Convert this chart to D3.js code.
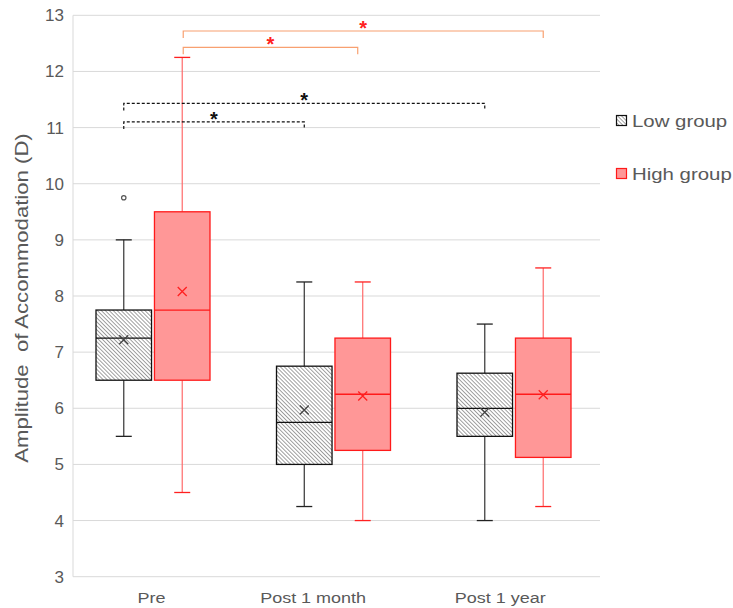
<!DOCTYPE html>
<html><head><meta charset="utf-8">
<script src="https://cdn.jsdelivr.net/npm/d3@7"></script>
<style>body{margin:0;background:#fff}svg{display:block}</style>
</head><body><svg id="c" width="733" height="608"></svg>
<script>
const categories = ["Pre", "Post 1 month", "Post 1 year"];
const groups = ["Low group", "High group"];
// [whiskerLow, Q1, median, Q3, whiskerHigh, mean]
const lowGroup = [
  [5.5, 6.5, 7.25, 7.75, 9.0, 7.22],
  [4.25, 5.0, 5.75, 6.75, 8.25, 5.97],
  [4.0, 5.5, 6.0, 6.625, 7.5, 5.93]
];
const highGroup = [
  [4.5, 6.5, 7.75, 9.5, 12.25, 8.08],
  [4.0, 5.25, 6.25, 7.25, 8.25, 6.22],
  [4.25, 5.125, 6.25, 7.25, 8.5, 6.24]
];
const lowOutliers = [[0, 9.75]];
const yTicks = [3,4,5,6,7,8,9,10,11,12,13];
// significance brackets: from/to = [categoryIndex, groupIndex], level in D
const brackets = [
  {from:[0,0], to:[1,0], level:11.1, g:0},
  {from:[0,0], to:[2,0], level:11.43, g:0},
  {from:[0,1], to:[1,1], level:12.43, g:1},
  {from:[0,1], to:[2,1], level:12.72, g:1}
];

const svg = d3.select("#c");
const font = "Arial, 'Liberation Sans', sans-serif";
const grey = "#595959";
const SX = 1.2; // horizontal stretch of text, as in the reference
const y = d3.scaleLinear().domain([3,13]).range([576.7,15.3]);
const x = d3.scaleBand().domain(categories).range([62.75,604.25]);
const xg = d3.scaleBand().domain(groups).range([0,114]).paddingInner(0.05);
const plotL = 73, plotR = 600;
const bw = xg.bandwidth();
const gx = (ci, gi) => x(categories[ci]) + x.bandwidth()/2 - 57 + xg(groups[gi]);

// hatch pattern
const defs = svg.append("defs");
const pat = defs.append("pattern").attr("id","hatch").attr("patternUnits","userSpaceOnUse")
  .attr("width",2.8).attr("height",2.8).attr("patternTransform","rotate(-45)");
pat.append("rect").attr("width",2.8).attr("height",2.8).attr("fill","#fff");
pat.append("line").attr("x1",0).attr("y1",0).attr("x2",0).attr("y2",2.8).attr("stroke","#3a3a3a").attr("stroke-width",0.95);

// gridlines
svg.append("g").selectAll("line").data(yTicks).join("line")
  .attr("x1",plotL).attr("x2",plotR).attr("y1",d=>y(d)).attr("y2",d=>y(d))
  .attr("stroke","#d9d9d9").attr("stroke-width",1);
svg.append("line").attr("x1",plotL).attr("x2",plotL).attr("y1",y(13)).attr("y2",y(3)).attr("stroke","#d9d9d9");

// y axis
const ya = svg.append("g").attr("transform",`translate(${plotL},0)`)
  .call(d3.axisLeft(y).tickValues(yTicks).tickSize(0).tickPadding(9).tickFormat(d3.format("d")));
ya.select(".domain").remove();
ya.selectAll("text").attr("font-family",font).attr("font-size",17).attr("fill",grey);

// x axis
const xa = svg.append("g").attr("transform",`translate(0,${y(3)})`)
  .call(d3.axisBottom(x).tickSize(0).tickPadding(16));
xa.select(".domain").remove();
xa.selectAll("text").attr("font-family",font).attr("font-size",15).attr("fill",grey)
  .attr("dx",(d,i)=>[-1.2,-17,-11.5][i]).attr("transform",`scale(${SX},1)`);

// y label
svg.append("text").attr("transform",`translate(28,298) rotate(-90) scale(1.23,1)`).attr("text-anchor","middle")
  .attr("font-family",font).attr("font-size",18).attr("fill",grey).attr("xml:space","preserve")
  .text("Amplitude  of Accommodation (D)");

function drawBox(data, gi, style){
  const g = svg.append("g");
  data.forEach((d,ci)=>{
    const x0 = gx(ci,gi), cx = x0 + bw/2;
    g.append("line").attr("x1",cx).attr("x2",cx).attr("y1",y(d[3])).attr("y2",y(d[4])).attr("stroke",style.whisker).attr("stroke-width",1.2);
    g.append("line").attr("x1",cx).attr("x2",cx).attr("y1",y(d[0])).attr("y2",y(d[1])).attr("stroke",style.whisker).attr("stroke-width",1.2);
    [d[0],d[4]].forEach(v=>g.append("line").attr("x1",cx-8).attr("x2",cx+8).attr("y1",y(v)).attr("y2",y(v)).attr("stroke",style.cap).attr("stroke-width",1.3));
    g.append("rect").attr("x",x0).attr("y",y(d[3])).attr("width",bw).attr("height",y(d[1])-y(d[3]))
      .attr("fill",style.fill).attr("stroke",style.stroke).attr("stroke-width",1.3);
    g.append("line").attr("x1",x0).attr("x2",x0+bw).attr("y1",y(d[2])).attr("y2",y(d[2])).attr("stroke",style.stroke).attr("stroke-width",1.3);
    const my = y(d[5]), s = 4.5;
    g.append("path").attr("d",`M${cx-s},${my-s}L${cx+s},${my+s}M${cx-s},${my+s}L${cx+s},${my-s}`)
      .attr("stroke",style.mean).attr("stroke-width",1.3);
  });
}
drawBox(lowGroup,0,{fill:"url(#hatch)",stroke:"#111",whisker:"#333",cap:"#222",mean:"#444"});
drawBox(highGroup,1,{fill:"#ff9797",stroke:"#ff1a1a",whisker:"#ff6a6a",cap:"#ff2020",mean:"#ff2020"});

// outliers
svg.append("g").selectAll("circle").data(lowOutliers).join("circle")
  .attr("cx",d=>gx(d[0],0)+bw/2).attr("cy",d=>y(d[1])).attr("r",2.2)
  .attr("fill","#fff").attr("stroke","#555").attr("stroke-width",1.2);

// brackets
brackets.forEach((b,i)=>{
  let x1 = gx(b.from[0],b.from[1])+bw/2;
  let x2 = gx(b.to[0],b.to[1])+bw/2;
  if(b.g===1){ x1 += 1; if(b.to[0]===1) x2 -= 5; }
  const yy = y(b.level);
  const col = b.g===0 ? "#111" : "#f8a070";
  const path = `M${x1},${yy+7}L${x1},${yy}L${x2},${yy}L${x2},${yy+7}`;
  svg.append("path").attr("d",path).attr("fill","none").attr("stroke",col).attr("stroke-width",1.2)
    .attr("stroke-dasharray",b.g===0?"3,2":null);
  svg.append("text").attr("x",(x1+x2)/2).attr("y",yy+4).attr("text-anchor","middle")
    .attr("font-family",font).attr("font-size",20).attr("font-weight","bold")
    .attr("fill",b.g===0?"#111":"#ff2020").text("*");
});

// legend
const lg = svg.append("g").attr("transform","translate(616,115)");
groups.forEach((gname,i)=>{
  const gy = i*53;
  lg.append("rect").attr("x",0.5).attr("y",gy+0.5).attr("width",10).attr("height",10)
    .attr("fill",i===0?"url(#hatch)":"#ff9797").attr("stroke",i===0?"#111":"#ff1a1a").attr("stroke-width",1.2);
  lg.append("text").attr("transform",`translate(16,${gy+12}) scale(${SX},1)`).attr("font-family",font).attr("font-size",17)
    .attr("fill",grey).text(gname);
});
</script></body></html>
